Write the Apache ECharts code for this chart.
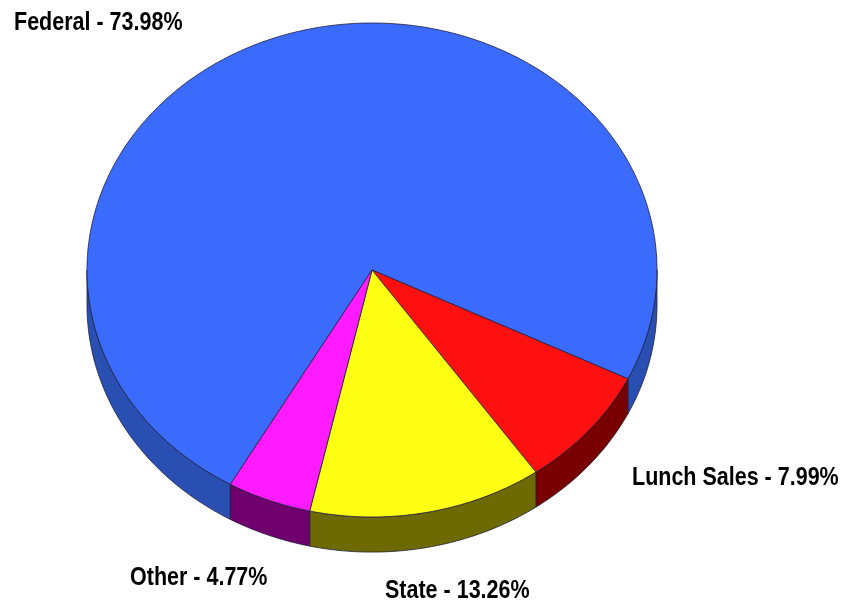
<!DOCTYPE html>
<html><head><meta charset="utf-8">
<script src="https://cdn.jsdelivr.net/npm/echarts@6/dist/echarts.min.js"></script>
<style>html,body{margin:0;padding:0;background:#fff}#c{width:846px;height:608px}</style>
</head><body><div id="c"></div>
<script>
const categories = ['Federal', 'Lunch Sales', 'State', 'Other'];
const values = [73.98, 7.99, 13.26, 4.77];
const topColors = ['#3b6bfd', '#ff1010', '#ffff14', '#ff1aff'];
const sideColors = ['#2a4fb3', '#780000', '#6c6a00', '#70006e'];

const startAngle = 119.8;   // degrees, clockwise on screen from 3 o'clock
const depth = 0.142;        // rim thickness in y-axis units
const labelPos = [[14, 23], [632, 478], [385, 591], [130, 578]];

const total = values.reduce((a, b) => a + b, 0);
const bounds = [];
let acc = 0;
values.forEach(v => {
  const a1 = startAngle + acc / total * 360;
  acc += v;
  bounds.push([a1, startAngle + acc / total * 360]);
});
const rad = d => d * Math.PI / 180;
function pt(api, deg, dy) {
  return api.coord([Math.cos(rad(deg)), -Math.sin(rad(deg)) - (dy || 0)]);
}
function arc(api, a1, a2, dy) {
  const pts = [];
  const n = Math.max(2, Math.ceil(Math.abs(a2 - a1)));
  for (let k = 0; k <= n; k++) pts.push(pt(api, a1 + (a2 - a1) * k / n, dy));
  return pts;
}
const stroke = '#20203a';

function renderSide(params, api) {
  const i = params.dataIndex;
  const [a1, a2] = bounds[i];
  const children = [];
  for (let k = 0; k < 3; k++) {
    const s = Math.max(a1, k * 360), e = Math.min(a2, k * 360 + 180);
    if (e > s) {
      const top = arc(api, s, e, 0);
      const bot = arc(api, s, e, depth).reverse();
      children.push({
        type: 'polygon',
        shape: { points: top.concat(bot) },
        style: { fill: sideColors[i], stroke: stroke, lineWidth: 0.8 }
      });
    }
  }
  return { type: 'group', children };
}
function renderTop(params, api) {
  const i = params.dataIndex;
  const [a1, a2] = bounds[i];
  const pts = [api.coord([0, 0])].concat(arc(api, a1, a2, 0));
  return {
    type: 'polygon',
    shape: { points: pts },
    style: { fill: topColors[i], stroke: stroke, lineWidth: 0.8 }
  };
}

const data = values.map((v, i) => ({ name: categories[i], value: [0, 0, v] }));
const chart = echarts.init(document.getElementById('c'));
chart.setOption({
  animation: false,
  grid: { left: 87, top: 23, width: 570, height: 494 },
  xAxis: { type: 'value', min: -1, max: 1, show: false },
  yAxis: { type: 'value', min: -1, max: 1, show: false },
  series: [
    { type: 'custom', renderItem: renderSide, data: data, z: 1, silent: true },
    { type: 'custom', renderItem: renderTop, data: data, z: 2, silent: true }
  ],
  graphic: categories.map((c, i) => ({
    type: 'text',
    x: labelPos[i][0], y: labelPos[i][1],
    scaleX: 0.86,
    style: {
      text: c + ' - ' + values[i].toFixed(2) + '%',
      font: 'bold 25px "Liberation Sans", Arial, sans-serif',
      fill: '#000', verticalAlign: 'middle', align: 'left'
    }
  }))
});
</script></body></html>
